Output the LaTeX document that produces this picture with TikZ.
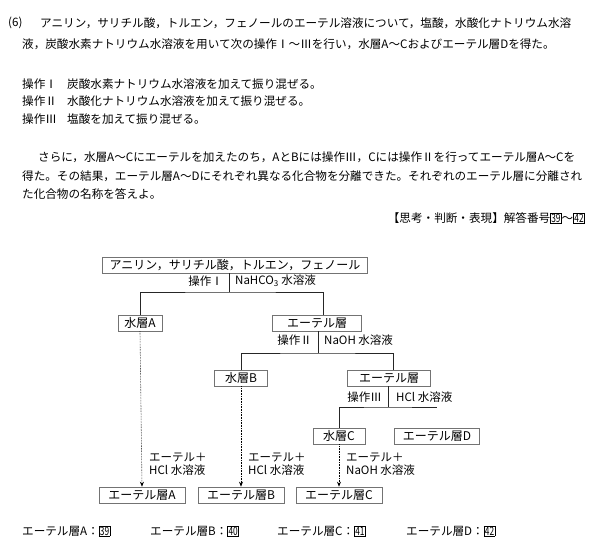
\documentclass[tikz,border=0pt]{standalone}
\usepackage{fontspec}
\setmainfont{Noto Sans CJK JP}
\usepackage{graphicx}
\usetikzlibrary{arrows.meta}

\setlength{\fboxsep}{0.6pt}
\setlength{\fboxrule}{0.5pt}
\newcommand{\ansno}[1]{\fbox{\scalebox{0.72}[1]{#1}}}

\tikzset{
  body/.style={anchor=west, inner sep=0pt, font=\fontsize{11.6}{13}\selectfont},
  layer/.style={draw=black!55, line width=0.6pt, minimum height=16pt, inner sep=1pt, font=\fontsize{12}{12}\selectfont},
  tree/.style={draw=black!85, line width=0.7pt},
  oplabel/.style={inner sep=0pt, font=\fontsize{11.5}{12}\selectfont},
  addarrow/.style={densely dotted, line width=0.6pt, -{Stealth[length=5pt,width=4pt]}}
}

\begin{document}
\begin{tikzpicture}[x=1pt, y=-1pt]
    \useasboundingbox (0,0) rectangle (600,552);

    % question text
    \node[body] (num) at (8,23) {(6)};
    \node[body] (l1) at (40,23) {アニリン，サリチル酸，トルエン，フェノールのエーテル溶液について，塩酸，水酸化ナトリウム水溶};
    \node[body] (l2) at (22,44) {液，炭酸水素ナトリウム水溶液を用いて次の操作Ⅰ～Ⅲを行い，水層A～Cおよびエーテル層Dを得た。};
    \node[body] (opA) at (22,84) {操作Ⅰ};
    \node[body] (opAt) at (67,84) {炭酸水素ナトリウム水溶液を加えて振り混ぜる。};
    \node[body] (opB) at (22,101) {操作Ⅱ};
    \node[body] (opBt) at (67,101) {水酸化ナトリウム水溶液を加えて振り混ぜる。};
    \node[body] (opC) at (22,119) {操作Ⅲ};
    \node[body] (opCt) at (67,119) {塩酸を加えて振り混ぜる。};
    \node[body] (l3) at (38,157) {さらに，水層A～Cにエーテルを加えたのち，AとBには操作Ⅲ，Cには操作Ⅱを行ってエーテル層A～Cを};
    \node[body] (l4) at (22,176) {得た。その結果，エーテル層A～Dにそれぞれ異なる化合物を分離できた。それぞれのエーテル層に分離され};
    \node[body] (l5) at (22,194) {た化合物の名称を答えよ。};
    \node[body, anchor=east] (tag) at (585,218) {【思考・判断・表現】解答番号\ansno{39}～\ansno{42}};

    % separation scheme
    \node[layer, minimum width=265pt] (mix) at (235,265) {アニリン，サリチル酸，トルエン，フェノール};
    \node[layer, minimum width=44pt] (aqA) at (140,323) {水層A};
    \node[layer, minimum width=89pt] (ethI) at (317,323) {エーテル層};
    \node[layer, minimum width=53pt] (aqB) at (241,378) {水層B};
    \node[layer, minimum width=83pt] (ethII) at (389,378) {エーテル層};
    \node[layer, minimum width=52pt] (aqC) at (339,436) {水層C};
    \node[layer, minimum width=85pt] (ethD) at (437,436) {エーテル層D};
    \node[layer, minimum width=86pt] (ethA) at (142,495) {エーテル層A};
    \node[layer, minimum width=86pt] (ethB) at (241,495) {エーテル層B};
    \node[layer, minimum width=86pt] (ethC) at (339,495) {エーテル層C};

    \coordinate (sp1) at (229,292);
    \coordinate (sp2) at (318,353);
    \coordinate (sp3) at (388,407);

    \draw[tree] (sp1 |- mix.south) -- (sp1);
    \draw[tree] (aqA.north) |- (sp1) -| ([xshift=6pt]ethI.north);
    \node[oplabel, anchor=east] (op1) at (223,281) {操作Ⅰ};
    \node[oplabel, anchor=west] (re1) at (235,281) {NaHCO\textsubscript{3} 水溶液};

    \draw[tree] (sp2 |- ethI.south) -- (sp2);
    \draw[tree] (aqB.north) |- (sp2) -| ([xshift=4pt]ethII.north);
    \node[oplabel, anchor=east] (op2) at (312,340) {操作Ⅱ};
    \node[oplabel, anchor=west] (re2) at (324,340) {NaOH 水溶液};

    \draw[tree] (sp3 |- ethII.south) -- (sp3);
    \draw[tree] (aqC.north) |- (sp3) -- (sp3 -| ethD.north);
    \node[oplabel, anchor=east] (op3) at (382,397) {操作Ⅲ};
    \node[oplabel, anchor=west] (re3) at (396,397) {HCl 水溶液};

    \draw[addarrow] (aqA.south) -- (ethA.north);
    \draw[addarrow] (aqB.south) -- (ethB.north);
    \draw[addarrow] (aqC.south) -- (ethC.north);
    \node[oplabel, anchor=west, align=left] (addA) at (149,464) {エーテル＋\\[1pt]HCl 水溶液};
    \node[oplabel, anchor=west, align=left] (addB) at (248,464) {エーテル＋\\[1pt]HCl 水溶液};
    \node[oplabel, anchor=west, align=left] (addC) at (346,464) {エーテル＋\\[1pt]NaOH 水溶液};

    % answer line
    \node[body] (ansA) at (22,531) {エーテル層A：\ansno{39}};
    \node[body] (ansB) at (150,531) {エーテル層B：\ansno{40}};
    \node[body] (ansC) at (277,531) {エーテル層C：\ansno{41}};
    \node[body] (ansD) at (406,531) {エーテル層D：\ansno{42}};
\end{tikzpicture}
\end{document}
